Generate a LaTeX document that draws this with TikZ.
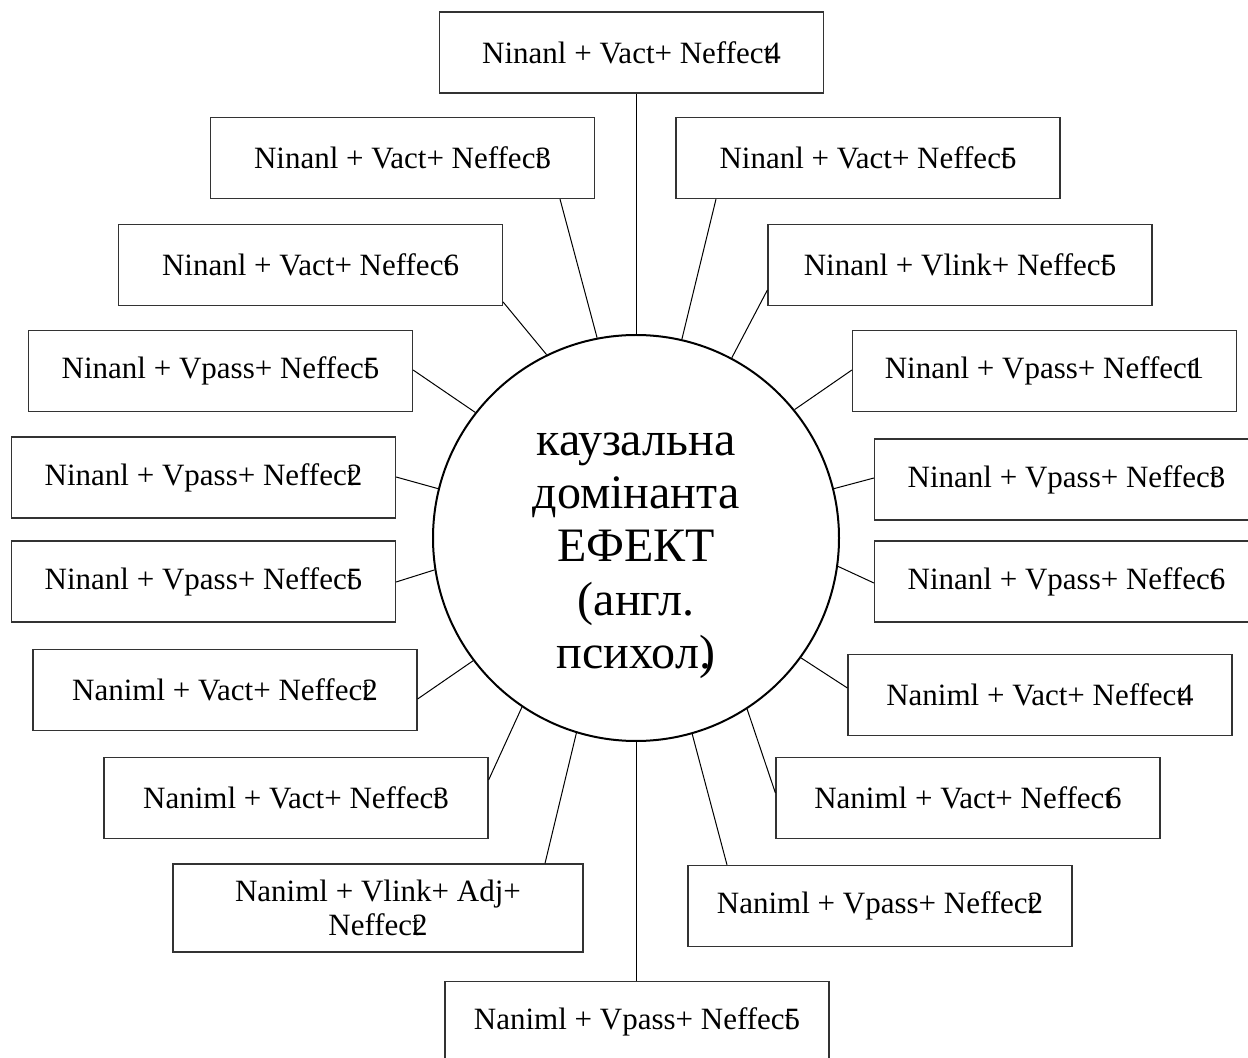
\documentclass[tikz,border=0pt]{standalone}
\usepackage{fontspec}
\setmainfont{Liberation Serif}
\usetikzlibrary{positioning}
\newcommand{\tover}[1]{\rlap{t}#1}
\newcommand{\tnear}[1]{t\kern-0.22em#1}
\tikzstyle{cellbox} = [rectangle, draw=black!80, line width=0.6pt, minimum width=192pt, minimum height=40.5pt, inner sep=0pt, align=center, font=\fontsize{15.5}{17}\selectfont]
\tikzstyle{corebox} = [circle, draw=black, line width=1pt, minimum size=203pt, inner sep=0pt, align=center, font=\fontsize{24}{26.7}\selectfont]
\tikzstyle{spoke} = [line width=0.5pt]
\begin{document}
\begin{tikzpicture}[x=0.5pt, y=-0.5pt]
    \useasboundingbox (0,0) rectangle (1248,1058);
    \node (core) [corebox] at (636,538) {\rule{0pt}{29pt}каузальна\\домінанта\\ЕФЕКТ\\(англ.\\психол\rlap{.})};

    \node (b1) [cellbox] at (631.5,52.5) {Ninanl + Vact+ Neffec\tnear{4}};
    \node (b2) [cellbox] at (402.5,158) {Ninanl + Vact+ Neffec\tover{3}};
    \node (b3) [cellbox] at (868,158) {Ninanl + Vact+ Neffec\tover{5}};
    \node (b4) [cellbox] at (310.5,265) {Ninanl + Vact+ Neffec\tover{6}};
    \node (b5) [cellbox] at (960,265) {Ninanl + Vlink+ Neffec\tover{5}};
    \node (b6) [cellbox] at (220.5,371) {Ninanl + Vpass+ Neffec\tover{5}};
    \node (b7) [cellbox] at (1044.5,371) {Ninanl + Vpass+ Neffec\tnear{1}};
    \node (b8) [cellbox] at (203.5,477.5) {Ninanl + Vpass+ Neffec\tover{2}};
    \node (b9) [cellbox] at (1066.5,479.5) {Ninanl + Vpass+ Neffec\tover{3}};
    \node (b10) [cellbox] at (203.5,581.5) {Ninanl + Vpass+ Neffec\tover{5}};
    \node (b11) [cellbox] at (1066.5,581.5) {Ninanl + Vpass+ Neffec\tover{6}};
    \node (b12) [cellbox] at (225,690) {Naniml + Vact+ Neffec\tover{2}};
    \node (b13) [cellbox] at (1040,695) {Naniml + Vact+ Neffec\tnear{4}};
    \node (b14) [cellbox] at (296,798) {Naniml + Vact+ Neffec\tover{3}};
    \node (b15) [cellbox] at (968,798) {Naniml + Vact+ Neffec\tnear{6}};
    \node (b16) [cellbox, minimum width=205pt, minimum height=44pt] at (378,908) {Naniml + Vlink+ Adj+\\Neffec\tover{2}};
    \node (b17) [cellbox] at (880,906) {Naniml + Vpass+ Neffec\tover{2}};
    \node (b18) [cellbox] at (637,1022) {Naniml + Vpass+ Neffec\tover{5}};

    \draw [spoke] (core.90) -- (core.90 |- b1.south);
    \draw [spoke] (core.101) -- (b2.south -| 560,0);
    \draw [spoke] (core.77.5) -- (b3.south -| 716,0);
    \draw [spoke] (core.116) -- (b4.east |- 0,302);
    \draw [spoke] (core.62) -- (b5.west |- 0,290);
    \draw [spoke] (core.142) -- (b6.east |- 0,370);
    \draw [spoke] (core.39.5) -- (b7.west |- 0,370);
    \draw [spoke] (core.166.8) -- (b8.east |- 0,477);
    \draw [spoke] (core.14) -- (b9.west |- 0,478);
    \draw [spoke] (core.189.7) -- (b10.east |- 0,582);
    \draw [spoke] (core.-8) -- (b11.west |- 0,583);
    \draw [spoke] (core.217.7) -- (b12.east |- 0,699);
    \draw [spoke] (core.-36) -- (b13.west |- 0,688);
    \draw [spoke] (core.236.3) -- (b14.east |- 0,780);
    \draw [spoke] (core.-57) -- (b15.west |- 0,793);
    \draw [spoke] (core.253.6) -- (b16.north -| 545,0);
    \draw [spoke] (core.-74.3) -- (b17.north -| 727,0);
    \draw [spoke] (core.270) -- (core.270 |- b18.north);
\end{tikzpicture}
\end{document}
